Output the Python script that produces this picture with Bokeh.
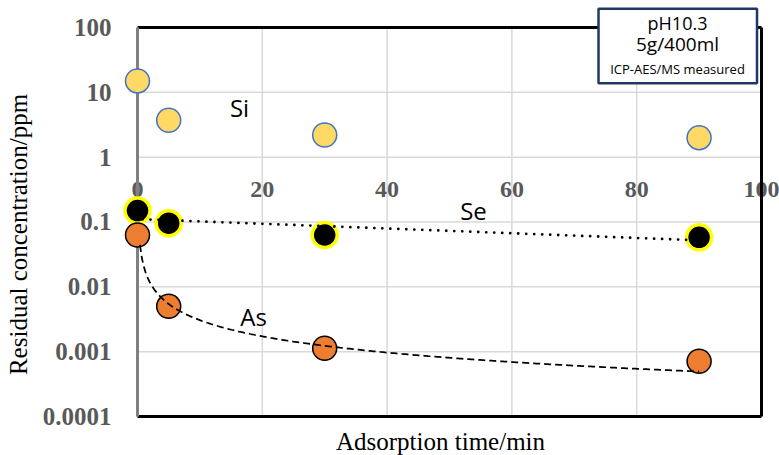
import numpy as np
from bokeh.plotting import figure
from bokeh.models import ColumnDataSource, Range1d, LabelSet, Label, BoxAnnotation
from bokeh.core.properties import value
from bokeh.embed import file_html
from bokeh.resources import INLINE

# ---------------- data ----------------
time_min = [0, 5, 30, 90]
si_ppm = [15, 3.7, 2.2, 2.0]
se_ppm = [0.15, 0.096, 0.063, 0.058]
as_ppm = [0.063, 0.0050, 0.00113, 0.00071]

# trendlines shown in the chart
se_trend_a, se_trend_k = 0.111, -0.0084    # exponential  y = a * exp(k * x)
as_trend_a, as_trend_b = 0.0207, -0.83     # power        y = a * x ** b

# axes
x_min, x_max = 0, 100
y_min, y_max = 0.0001, 100
x_ticks = [0, 20, 40, 60, 80, 100]
x_tick_labels = ["0", "20", "40", "60", "80", "100"]
x_grid = [20, 40, 60, 80]
y_ticks = [0.0001, 0.001, 0.01, 0.1, 1, 10, 100]
y_tick_labels = ["0.0001", "0.001", "0.01", "0.1", "1", "10", "100"]
y_grid = [0.001, 0.01, 0.1, 1, 10]
x_axis_cross = 1  # horizontal axis crosses at y = 1

x_title = "Adsorption time/min"
y_title = "Residual concentration/ppm"

series_names = ["Si", "Se", "As"]
series_label_x = [16.35, 53.85, 18.6]
series_label_y = [5.83, 0.150, 0.00349]

note_lines = ["pH10.3", "5g/400ml", "ICP-AES/MS measured"]

# ---------------- figure (frame covers the whole canvas) ----------------
p = figure(width=779, height=455,
           x_range=Range1d(-21.955, 102.885), y_range=Range1d(2.5026e-5, 260.9),
           y_axis_type="log", x_axis_location=None, y_axis_location=None,
           output_backend="svg", toolbar_location=None)
p.min_border = 0
p.min_border_left = 0
p.min_border_right = 0
p.min_border_top = 0
p.min_border_bottom = 0
p.outline_line_color = None
p.background_fill_color = "white"
p.border_fill_color = "white"
p.grid.visible = False

GRID = "#d9d9d9"
TICK_GRAY = "#595959"

# gridlines
p.segment(x0=x_grid, y0=[y_min] * len(x_grid), x1=x_grid, y1=[y_max] * len(x_grid),
          line_color=GRID, line_width=1.5, level="underlay")
p.segment(x0=[x_min] * len(y_grid), y0=y_grid, x1=[x_max] * len(y_grid), y1=y_grid,
          line_color=GRID, line_width=1.5, level="underlay")

# x tick labels, placed below the axis crossing (y = 1)
xt_src = ColumnDataSource(dict(x=x_ticks, y=[x_axis_cross] * len(x_ticks), text=x_tick_labels))
p.add_layout(LabelSet(x="x", y="y", text="text", source=xt_src, y_offset=-32,
                      text_align="center", text_baseline="middle",
                      text_font=value("Liberation Serif"), text_font_style="bold",
                      text_font_size="24px", text_color=TICK_GRAY, level="underlay"))

# plot-area border (top, right, bottom) and grey vertical axis
p.segment(x0=[x_min, x_max, x_min], y0=[y_max, y_min, y_min],
          x1=[x_max, x_max, x_max], y1=[y_max, y_max, y_min],
          line_color="black", line_width=3)
p.segment(x0=[x_min], y0=[y_min], x1=[x_min], y1=[y_max], line_color="#808080", line_width=3)

# y tick labels
yt_src = ColumnDataSource(dict(x=[x_min] * len(y_ticks), y=y_ticks, text=y_tick_labels))
p.add_layout(LabelSet(x="x", y="y", text="text", source=yt_src, x_offset=-26,
                      text_align="right", text_baseline="middle",
                      text_font=value("Liberation Serif"), text_font_style="bold",
                      text_font_size="25px", text_color=TICK_GRAY))

# axis titles
p.add_layout(Label(x=-19.07, y=0.0642, text=y_title, angle=np.pi / 2,
                   text_align="center", text_baseline="middle",
                   text_font="Liberation Serif", text_font_size="25px", text_color="black"))
p.add_layout(Label(x=48.56, y=4.11e-5, text=x_title,
                   text_align="center", text_baseline="middle",
                   text_font="Liberation Serif", text_font_size="25px", text_color="black"))

# markers
p.scatter(time_min, si_ppm, size=24, fill_color="#FFD966", line_color="#4472C4", line_width=1.5)
p.scatter(time_min, se_ppm, size=25, fill_color="black", line_color="#FFFF00", line_width=3.5)
p.scatter(time_min, as_ppm, size=24, fill_color="#ED7D31", line_color="black", line_width=1.5)

# trendlines
xs_se = np.linspace(0.8, max(time_min), 200)
p.line(xs_se, se_trend_a * np.exp(se_trend_k * xs_se), line_color="black", line_width=2.8,
       line_dash="0 8", line_cap="round")
xs_as = np.linspace(0.4, max(time_min), 300)
p.line(xs_as, as_trend_a * xs_as ** as_trend_b, line_color="black", line_width=1.75,
       line_dash="7 4")

# series labels
sl_src = ColumnDataSource(dict(x=series_label_x, y=series_label_y, text=series_names))
p.add_layout(LabelSet(x="x", y="y", text="text", source=sl_src, text_align="center",
                      text_baseline="middle", text_font=value("Open Sans"),
                      text_font_size="24px", text_color="black"))

# note box
p.add_layout(BoxAnnotation(left=73.88, right=99.28, top=194.3, bottom=13.83,
                           fill_color="white", fill_alpha=1.0,
                           line_color="#1F3864", line_alpha=1.0, line_width=2.5,
                           level="overlay"))
note_y = [119.4, 56.65, 22.9]
note_sizes = ["18px", "19px", "13px"]
for txt, ny, fs in zip(note_lines, note_y, note_sizes):
    p.add_layout(Label(x=86.54, y=ny, text=txt, text_align="center", text_baseline="middle",
                       text_font="Open Sans", text_font_size=fs, text_color="black",
                       level="overlay"))

open("out.html", "w").write(file_html(p, INLINE))
